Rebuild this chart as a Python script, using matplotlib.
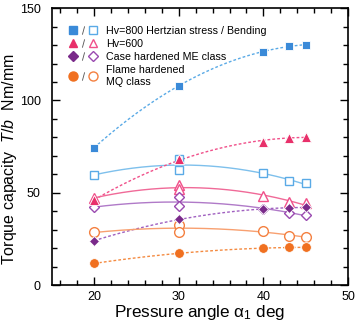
import numpy as np
import matplotlib
matplotlib.use("Agg")
import matplotlib.pyplot as plt
from matplotlib.lines import Line2D
from matplotlib.legend_handler import HandlerTuple

plt.rcParams['font.family'] = ['Liberation Sans', 'DejaVu Sans']
plt.rcParams['mathtext.fontset'] = 'custom'
plt.rcParams['mathtext.rm'] = 'Liberation Sans'
plt.rcParams['mathtext.it'] = 'Liberation Sans:italic'

# ---- data ----
x_fill = [20, 30, 40, 43, 45]
hertz800 = [74.4, 108.0, 126.4, 129.3, 130.2]
hertz600 = [46.0, 68.0, 77.6, 79.8, 80.3]
hertz_case = [24.0, 35.6, 41.0, 41.9, 42.1]
hertz_flame = [11.7, 17.2, 19.9, 20.4, 20.4]

x_open = [20, 30, 30, 40, 43, 45]
bend800 = [59.6, 68.1, 62.1, 60.5, 56.3, 55.1]
bend600 = [47.0, 54.3, 51.8, 48.2, 44.8, 44.2]
bend_case = [42.1, 47.5, 42.8, 41.0, 39.2, 37.9]
bend_flame = [28.5, 32.5, 28.9, 29.2, 26.7, 26.0]

labels = ["Hv=800 Hertzian stress / Bending", "Hv=600",
          "Case hardened ME class", "Flame hardened\nMQ class"]

colors_fill = ['#3a8ad8', '#e8306a', '#7a2a8a', '#f07020']
colors_open = ['#5aaae6', '#f0508a', '#9a4ab0', '#f48040']
line_fill = ['#5aaae6', '#f0508a', '#a060c0', '#f48a40']
line_open = ['#7ec0ec', '#f06a98', '#b07ac8', '#f8a070']
markers = ['s', '^', 'D', 'o']
msizes = [6, 6.5, 5.5, 7]

fills = [hertz800, hertz600, hertz_case, hertz_flame]
opens = [bend800, bend600, bend_case, bend_flame]

fig = plt.figure(figsize=(3.58, 3.25), dpi=100)
ax = fig.add_axes([0.145, 0.123, 0.827, 0.852])

xs = np.linspace(20, 45, 200)
handles = []
for i in range(4):
    cf = np.polyfit(x_fill, fills[i], 2)
    ax.plot(xs, np.polyval(cf, xs), ls=(0, (2, 1.5)), lw=1.0, color=line_fill[i], zorder=2)
    co = np.polyfit(x_open, opens[i], 2)
    ax.plot(xs, np.polyval(co, xs), ls='-', lw=1.0, color=line_open[i], zorder=2)
    ax.plot(x_open, opens[i], ls='none', marker=markers[i], ms=msizes[i],
            mfc='white', mec=colors_open[i], mew=1.0, zorder=3)
    ax.plot(x_fill, fills[i], ls='none', marker=markers[i], ms=msizes[i],
            mfc=colors_fill[i], mec='white', mew=0.6, zorder=4)
    hf = Line2D([], [], ls='none', marker=markers[i], ms=msizes[i] - 0.5,
                mfc=colors_fill[i], mec=colors_fill[i])
    hs = Line2D([], [], ls='none', marker='$/$', ms=6, color='#555555', mew=0)
    ho = Line2D([], [], ls='none', marker=markers[i], ms=msizes[i] - 0.5,
                mfc='white', mec=colors_open[i], mew=1.0)
    handles.append((hf, hs, ho))

leg = ax.legend(handles, labels, handler_map={tuple: HandlerTuple(ndivide=None, pad=0.0)},
                loc='upper left', bbox_to_anchor=(0.054, 0.937), frameon=False,
                fontsize=7.7, handlelength=2.8, handletextpad=0.75,
                labelspacing=0.3, borderaxespad=0.0, borderpad=0.0)

ax.set_xlim(15, 50)
ax.set_ylim(0, 150)
ax.set_xticks([20, 30, 40, 50])
ax.set_xticks(np.arange(16, 50, 2), minor=True)
ax.set_yticks([0, 50, 100, 150])
ax.set_yticks(np.arange(10, 150, 10), minor=True)
ax.tick_params(which='both', direction='in', top=True, right=True, labelsize=9, width=1.0)
ax.tick_params(which='major', length=6)
ax.tick_params(axis='y', which='major', pad=8)
ax.tick_params(axis='x', which='major', pad=4)
ax.tick_params(which='minor', length=3.5)
for s in ax.spines.values():
    s.set_linewidth(1.2)

ax.set_xlabel('Pressure angle α$_1$ deg', fontsize=12.3, labelpad=0)
ax.set_ylabel('Torque capacity  $\\it{T/b}$  Nm/mm', fontsize=11.5)
ax.yaxis.set_label_coords(-0.112, 0.455)

fig.savefig('out.png', dpi=100)
